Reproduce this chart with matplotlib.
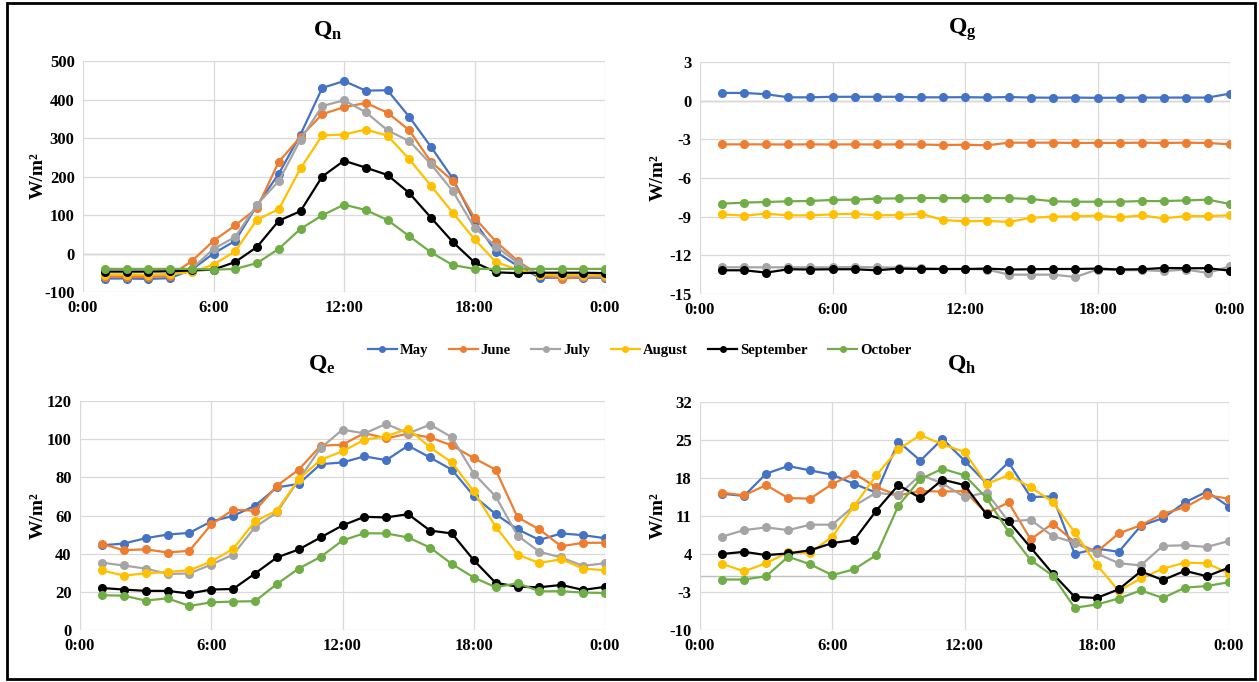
import matplotlib
matplotlib.use('Agg')
import matplotlib.pyplot as plt
from matplotlib.lines import Line2D

plt.rcParams['font.family'] = ['Liberation Serif', 'DejaVu Serif']
plt.rcParams['font.weight'] = 'bold'
plt.rcParams['axes.unicode_minus'] = False
plt.rcParams['mathtext.fontset'] = 'custom'
plt.rcParams['mathtext.bf'] = 'Liberation Serif:bold'
plt.rcParams['mathtext.rm'] = 'Liberation Serif:bold'

hours = list(range(1, 25))
months = ['May', 'June', 'July', 'August', 'September', 'October']
colors = ['#4472C4', '#ED7D31', '#A5A5A5', '#FFC000', '#000000', '#70AD47']
tick_hours = [0, 6, 12, 18, 24]
tick_labels = ['0:00', '6:00', '12:00', '18:00', '0:00']

# net radiation
qn_may = [-65, -65, -66, -64, -42, 0, 33, 125, 207, 309, 430, 448, 423, 424, 355, 277, 195, 83, 4, -33, -63, -63, -63, -63]
qn_jun = [-60, -61, -61, -58, -20, 33, 73, 118, 238, 303, 362, 380, 391, 366, 320, 238, 189, 93, 30, -20, -57, -65, -61, -61]
qn_jul = [-55, -55, -56, -54, -40, 12, 43, 127, 188, 296, 383, 398, 367, 320, 292, 232, 162, 67, 18, -25, -55, -58, -58, -58]
qn_aug = [-55, -55, -55, -54, -48, -29, 6, 88, 115, 221, 307, 309, 322, 306, 245, 176, 106, 37, -23, -42, -55, -55, -55, -55]
qn_sep = [-47, -47, -47, -46, -44, -42, -22, 17, 85, 110, 200, 241, 223, 204, 157, 93, 30, -23, -49, -51, -50, -50, -50, -51]
qn_oct = [-40, -40, -40, -40, -40, -42, -40, -25, 12, 64, 99, 127, 113, 87, 45, 3, -30, -40, -40, -40, -40, -40, -40, -40]

# ground heat flux
qg_may = [0.6, 0.6, 0.5, 0.26, 0.26, 0.3, 0.3, 0.3, 0.3, 0.26, 0.26, 0.27, 0.25, 0.28, 0.24, 0.23, 0.24, 0.22, 0.23, 0.24, 0.24, 0.24, 0.24, 0.55]
qg_jun = [-3.39, -3.39, -3.39, -3.4, -3.39, -3.4, -3.39, -3.4, -3.39, -3.4, -3.44, -3.42, -3.46, -3.26, -3.26, -3.26, -3.28, -3.28, -3.28, -3.26, -3.28, -3.26, -3.28, -3.39]
qg_jul = [-12.93, -12.93, -12.93, -12.93, -12.93, -12.93, -12.9, -12.93, -12.95, -12.98, -13.06, -13.06, -13.1, -13.5, -13.5, -13.5, -13.68, -13.1, -13.15, -13.15, -13.22, -13.1, -13.37, -12.85]
qg_aug = [-8.82, -8.92, -8.77, -8.9, -8.9, -8.82, -8.77, -8.9, -8.87, -8.77, -9.26, -9.36, -9.33, -9.41, -9.08, -9.0, -8.97, -8.92, -9.05, -8.9, -9.13, -8.95, -8.95, -8.9]
qg_sep = [-13.16, -13.16, -13.34, -13.08, -13.1, -13.08, -13.08, -13.16, -13.03, -13.06, -13.06, -13.06, -13.03, -13.1, -13.08, -13.06, -13.06, -13.03, -13.1, -13.08, -12.98, -13.0, -13.0, -13.19]
qg_oct = [-7.99, -7.91, -7.86, -7.81, -7.78, -7.7, -7.68, -7.6, -7.58, -7.55, -7.56, -7.56, -7.56, -7.56, -7.63, -7.81, -7.84, -7.84, -7.84, -7.79, -7.79, -7.74, -7.68, -8.02]

# latent heat flux
qe_may = [44.4, 45.3, 48.1, 50.0, 50.9, 56.9, 59.8, 65.1, 74.7, 76.6, 86.9, 87.8, 91.0, 89.0, 96.6, 90.4, 84.0, 70.3, 60.7, 52.8, 47.2, 50.6, 49.7, 48.1]
qe_jun = [45.1, 41.8, 42.3, 40.6, 41.5, 55.3, 63.0, 62.5, 75.6, 84.0, 96.6, 97.1, 103.2, 100.4, 102.9, 100.9, 96.7, 90.1, 84.0, 59.1, 52.7, 43.9, 45.7, 45.7]
qe_jul = [35.3, 33.8, 32.2, 29.4, 29.6, 34.3, 39.5, 53.9, 61.6, 78.7, 95.3, 105.0, 103.0, 108.0, 103.0, 107.6, 101.0, 82.0, 70.0, 49.5, 41.0, 38.0, 33.6, 35.0]
qe_aug = [31.3, 28.5, 29.7, 30.4, 31.3, 35.9, 42.5, 56.9, 62.6, 79.0, 89.2, 93.6, 99.7, 101.5, 105.5, 95.7, 87.8, 72.6, 54.2, 39.5, 35.1, 37.1, 32.2, 31.3]
qe_sep = [22.0, 21.2, 20.5, 20.5, 19.1, 21.2, 21.5, 29.6, 38.0, 42.2, 48.5, 54.8, 59.3, 59.0, 60.7, 52.1, 50.6, 36.6, 24.7, 22.7, 22.4, 23.6, 21.0, 22.6]
qe_oct = [18.2, 18.0, 15.4, 16.6, 12.6, 14.5, 14.9, 15.1, 24.1, 32.2, 38.3, 46.9, 50.7, 50.6, 48.5, 43.2, 34.6, 27.5, 22.4, 24.5, 20.3, 20.3, 19.6, 19.4]

# sensible heat flux
qh_may = [15.1, 14.7, 18.8, 20.2, 19.4, 18.6, 16.9, 15.3, 24.7, 21.2, 25.2, 21.2, 17.0, 20.9, 14.5, 14.6, 4.0, 5.0, 4.4, 9.2, 10.6, 13.5, 15.5, 12.7]
qh_jun = [15.3, 14.8, 16.7, 14.3, 14.2, 16.9, 18.8, 16.3, 14.8, 15.6, 15.5, 15.6, 11.5, 13.5, 6.7, 9.6, 6.2, 4.4, 7.8, 9.3, 11.4, 12.6, 14.8, 14.2]
qh_jul = [7.2, 8.4, 8.9, 8.4, 9.4, 9.4, 12.9, 15.3, 14.8, 18.6, 17.0, 14.5, 15.3, 10.0, 10.3, 7.3, 6.1, 4.1, 2.3, 1.9, 5.5, 5.6, 5.3, 6.4]
qh_aug = [2.2, 0.8, 2.3, 4.3, 4.2, 7.2, 12.9, 18.5, 23.3, 25.9, 24.2, 22.8, 16.9, 18.5, 16.3, 13.6, 8.0, 2.0, -2.8, -0.5, 1.3, 2.4, 2.3, 0.4]
qh_sep = [4.0, 4.4, 3.8, 4.1, 4.7, 6.0, 6.6, 12.0, 16.7, 14.3, 17.7, 16.7, 11.3, 10.0, 5.2, 0.4, -3.9, -4.1, -2.5, 0.8, -0.8, 0.9, -0.1, 1.5]
qh_oct = [-0.7, -0.7, -0.1, 3.5, 2.1, 0.1, 1.2, 3.8, 12.9, 17.8, 19.7, 18.5, 14.3, 8.1, 2.9, 0.0, -5.9, -5.3, -4.2, -2.7, -4.1, -2.2, -1.9, -1.2]

W, H = 1259, 682
fig = plt.figure(figsize=(W / 100, H / 100), dpi=100)


def px_box(left, top, right, bottom):
    return [left / W, 1 - bottom / H, (right - left) / W, (bottom - top) / H]


panels = [
    (px_box(83, 61, 605, 292), [qn_may, qn_jun, qn_jul, qn_aug, qn_sep, qn_oct],
     list(range(-100, 501, 100)), 'n', (328, 30), (38, 176)),
    (px_box(700, 62, 1230, 294), [qg_may, qg_jun, qg_jul, qg_aug, qg_sep, qg_oct],
     list(range(-15, 4, 3)), 'g', (962, 30), (658, 178)),
    (px_box(80, 401, 605, 630), [qe_may, qe_jun, qe_jul, qe_aug, qe_sep, qe_oct],
     list(range(0, 121, 20)), 'e', (322, 364), (38, 516)),
    (px_box(700, 402, 1229, 630), [qh_may, qh_jun, qh_jul, qh_aug, qh_sep, qh_oct],
     list(range(-10, 33, 7)), 'h', (962, 364), (658, 516)),
]

for box, series, yticks, sub, title_xy, ylab_xy in panels:
    ax = fig.add_axes(box)
    for vals, name, c in zip(series, months, colors):
        ax.plot(hours, vals, color=c, lw=1.6, marker='o', ms=5.5, label=name)
    ax.set_xlim(0, 24)
    ax.set_ylim(yticks[0], yticks[-1])
    ax.set_xticks(tick_hours)
    ax.set_xticklabels(tick_labels)
    ax.set_yticks(yticks)
    ax.grid(True, color='#D9D9D9', lw=0.9)
    ax.set_axisbelow(True)
    if yticks[0] < 0 < yticks[-1]:
        ax.axhline(0, color='#BFBFBF', lw=1.0, zorder=0.5)
    for s in ax.spines.values():
        s.set_visible(False)
    ax.tick_params(length=0, labelsize=12, pad=6)
    for lab in ax.get_xticklabels() + ax.get_yticklabels():
        lab.set_fontweight('bold')
    fig.text(title_xy[0] / W, 1 - title_xy[1] / H, r'$\mathbf{Q_%s}$' % sub,
             fontsize=17, ha='center', va='center')
    fig.text(ylab_xy[0] / W, 1 - ylab_xy[1] / H, 'W/m²', rotation=90,
             fontsize=14, fontweight='bold', ha='center', va='center')

handles = [Line2D([], [], color=c, lw=1.6, marker='o', ms=4) for c in colors]
fig.legend(handles, months, loc='center', bbox_to_anchor=(0.508, 1 - 350 / H),
           ncol=6, frameon=False, prop={'weight': 'bold', 'size': 10.5},
           handlelength=2.0, handletextpad=0.2, columnspacing=1.4)

# outer frame
fig.add_artist(plt.Rectangle((7 / W, 3 / H), 1248 / W, 676 / H, transform=fig.transFigure,
                             fill=False, edgecolor='black', lw=2))

fig.savefig('out.png', dpi=100)
